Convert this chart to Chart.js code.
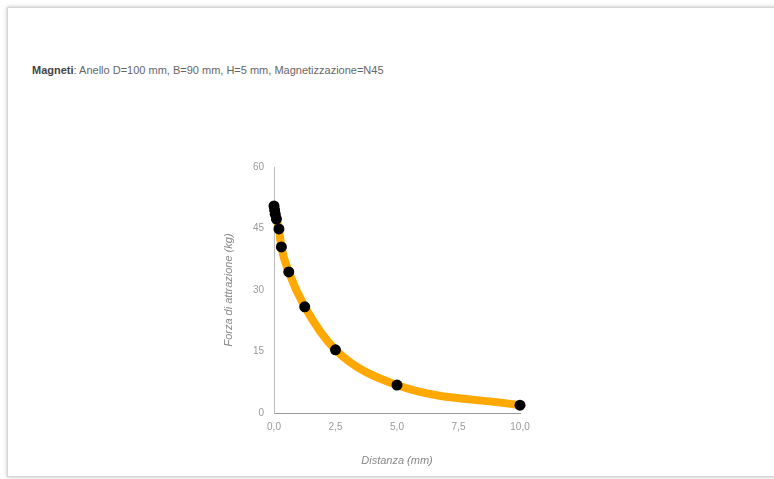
<!DOCTYPE html>
<html lang="it">
<head>
    <meta charset="UTF-8">
    <title>Forza di attrazione</title>
    <script src="https://cdn.jsdelivr.net/npm/chart.js"></script>
    <style>
        html, body {
            margin: 0;
            padding: 0;
            width: 774px;
            height: 479px;
            overflow: hidden;
            background: #fff;
            font-family: 'Liberation Sans', Arial, sans-serif;
        }

        #card {
            position: absolute;
            left: 7px;
            top: 7px;
            width: 790px;
            height: 468px;
            border: 1px solid #d6d6d6;
            box-shadow: 0 0 4px rgba(0, 0, 0, 0.25);
            background: #fff;
        }

        #titolo {
            position: absolute;
            left: 32px;
            top: 64px;
            font-size: 11px;
            color: #666;
        }

        #titolo b {
            color: #444;
        }

        #grafico {
            position: absolute;
            left: 0;
            top: 0;
        }
    </style>
</head>
<body>
    <div id="card"></div>
    <div id="titolo"><b>Magneti</b>: Anello D=100 mm, B=90 mm, H=5 mm, Magnetizzazione=N45</div>
    <canvas id="grafico" width="774" height="479"></canvas>

    <script>
        // valori
        const distanza = [0, 0.025, 0.05, 0.1, 0.2, 0.3, 0.6, 1.25, 2.5, 5, 10];
        const forza = [50.5, 49.5, 48.5, 47.3, 44.9, 40.5, 34.4, 25.9, 15.4, 6.8, 1.9];
        const yTicks = [0, 15, 30, 45, 60];
        const xTicks = [0, 2.5, 5, 7.5, 10];

        const punti = distanza.map((d, i) => ({ x: d, y: forza[i] }));

        const ctx = document.getElementById('grafico').getContext('2d');
        new Chart(ctx, {
            type: 'scatter',
            data: {
                datasets: [{
                    data: punti,
                    showLine: true,
                    clip: false,
                    borderColor: '#ffa800',
                    borderWidth: 8,
                    cubicInterpolationMode: 'monotone',
                    pointRadius: 5.5,
                    pointBackgroundColor: '#000',
                    pointBorderWidth: 0,
                    pointHoverRadius: 5.5
                }]
            },
            options: {
                responsive: false,
                animation: false,
                events: [],
                layout: {
                    padding: { left: 220, right: 254, top: 167, bottom: 6 }
                },
                plugins: {
                    legend: { display: false },
                    tooltip: { enabled: false }
                },
                scales: {
                    x: {
                        type: 'linear',
                        min: 0,
                        max: 10,
                        afterFit: (scale) => { scale.height = 60; },
                        afterBuildTicks: (scale) => {
                            scale.ticks = xTicks.map(v => ({ value: v }));
                        },
                        grid: { display: false, drawTicks: false },
                        border: { display: true, color: '#999', width: 1 },
                        ticks: {
                            padding: 8,
                            color: '#999',
                            font: { family: "'Liberation Sans', Arial", size: 10 },
                            callback: (v) => v.toFixed(1).replace('.', ',')
                        },
                        title: {
                            display: true,
                            text: 'Distanza (mm)',
                            color: '#888',
                            padding: { top: 0, bottom: 5 },
                            font: { family: "'Liberation Sans', Arial", size: 11, style: 'italic' }
                        }
                    },
                    y: {
                        min: 0,
                        max: 60,
                        afterFit: (scale) => { scale.width = 54; },
                        afterBuildTicks: (scale) => {
                            scale.ticks = yTicks.map(v => ({ value: v }));
                        },
                        grid: { display: false, drawTicks: false },
                        border: { display: true, color: '#bbb', width: 1 },
                        ticks: {
                            padding: 10,
                            color: '#999',
                            font: { family: "'Liberation Sans', Arial", size: 10 }
                        },
                        title: {
                            display: true,
                            text: 'Forza di attrazione (kg)',
                            color: '#888',
                            padding: { top: 2, bottom: 0 },
                            font: { family: "'Liberation Sans', Arial", size: 11, style: 'italic' }
                        }
                    }
                }
            }
        });
    </script>
</body>
</html>
